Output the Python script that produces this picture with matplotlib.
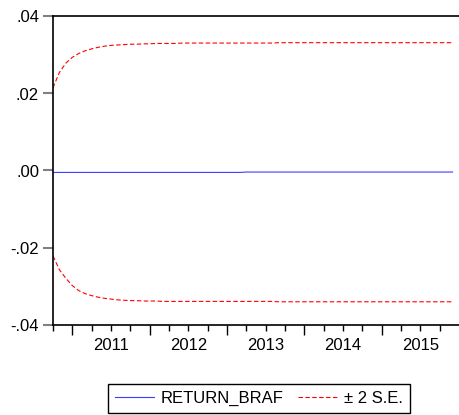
#!/usr/bin/env python3

import pandas as pd

import matplotlib
matplotlib.use('Agg')
import matplotlib.pyplot as plt

plt.rcParams['font.family'] = ['Liberation Sans', 'DejaVu Sans']

# monthly periods shown on the axis
months = pd.period_range('2010-10', '2015-12', freq='M')
years = [2011, 2012, 2013, 2014, 2015]
year_labels = ['2011', '2012', '2013', '2014', '2015']
y_ticks = [-0.04, -0.02, 0.0, 0.02, 0.04]
y_labels = ['-.04', '-.02', '.00', '.02', '.04']

return_braf = [
    -0.0005, -0.0005, -0.0005, -0.0005, -0.0005, -0.0005, -0.0005, -0.0005, -0.0005, -0.0005,
    -0.0005, -0.0005, -0.0005, -0.0005, -0.0005, -0.0005, -0.0005, -0.0005, -0.0005, -0.0005,
    -0.0005, -0.0005, -0.0005, -0.0005, -0.0005, -0.0005, -0.0005, -0.0005, -0.0005, -0.0005,
    -0.0004, -0.0004, -0.0004, -0.0004, -0.0004, -0.0004, -0.0004, -0.0004, -0.0004, -0.0004,
    -0.0004, -0.0004, -0.0004, -0.0004, -0.0004, -0.0004, -0.0004, -0.0004, -0.0004, -0.0004,
    -0.0004, -0.0004, -0.0004, -0.0004, -0.0004, -0.0004, -0.0004, -0.0004, -0.0004, -0.0004,
    -0.0004, -0.0004, -0.0004,
]
upper_se = [
    0.0215, 0.0255, 0.0279, 0.0294, 0.0304, 0.0311, 0.0316, 0.0320, 0.0323, 0.0325,
    0.0326, 0.0327, 0.0328, 0.0328, 0.0329, 0.0329, 0.0330, 0.0330, 0.0330, 0.0330,
    0.0331, 0.0331, 0.0331, 0.0331, 0.0331, 0.0331, 0.0331, 0.0331, 0.0331, 0.0331,
    0.0331, 0.0331, 0.0331, 0.0331, 0.0331, 0.0332, 0.0332, 0.0332, 0.0332, 0.0332,
    0.0332, 0.0332, 0.0332, 0.0332, 0.0332, 0.0332, 0.0332, 0.0332, 0.0332, 0.0332,
    0.0332, 0.0332, 0.0332, 0.0332, 0.0332, 0.0332, 0.0332, 0.0332, 0.0332, 0.0332,
    0.0332, 0.0332, 0.0332,
]
lower_se = [
    -0.0222, -0.0258, -0.0280, -0.0299, -0.0312, -0.0320, -0.0325, -0.0329, -0.0332, -0.0334,
    -0.0336, -0.0337, -0.0338, -0.0338, -0.0339, -0.0339, -0.0339, -0.0340, -0.0340, -0.0340,
    -0.0340, -0.0340, -0.0340, -0.0340, -0.0340, -0.0340, -0.0340, -0.0340, -0.0340, -0.0340,
    -0.0340, -0.0340, -0.0340, -0.0340, -0.0340, -0.0341, -0.0341, -0.0341, -0.0341, -0.0341,
    -0.0341, -0.0341, -0.0341, -0.0341, -0.0341, -0.0341, -0.0341, -0.0341, -0.0341, -0.0341,
    -0.0341, -0.0341, -0.0341, -0.0341, -0.0341, -0.0341, -0.0341, -0.0341, -0.0341, -0.0341,
    -0.0341, -0.0341, -0.0341,
]

if __name__ == "__main__":
    x = [p.year + (p.month - 1) / 12.0 for p in months]
    quarters = [p.year + (p.month - 1) / 12.0 for p in months if (p.month - 1) % 3 == 0]

    fig = plt.figure(figsize=(4.59, 4.15), dpi=100)
    ax = fig.add_axes([53 / 459, 1 - 324.5 / 415, 406 / 459, 308 / 415])

    blue, = ax.plot(x, return_braf, color='#3c3cff', lw=0.8)
    red, = ax.plot(x, upper_se, color='#ff0000', lw=0.8, linestyle=(0, (4, 2.2)))
    ax.plot(x, lower_se, color='#ff0000', lw=0.8, linestyle=(0, (4, 2.2)))

    ax.set_xlim(x[0], x[-1] + 1 / 12.0)
    ax.set_ylim(-0.04, 0.04)

    ax.set_yticks(y_ticks, y_labels)
    ax.tick_params(axis='y', direction='out', length=7, width=1.5, color='#808080',
                   labelsize=12, pad=3)

    ax.set_xticks(years, [''] * len(years))
    ax.set_xticks(quarters, minor=True)
    ax.tick_params(axis='x', which='major', direction='out', length=7.5, width=1)
    ax.tick_params(axis='x', which='minor', direction='out', length=4.5, width=1)
    for yr, lab in zip(years, year_labels):
        ax.text(yr + 0.5, -0.069, lab, transform=ax.get_xaxis_transform(),
                ha='center', va='center', fontsize=12)

    ax.spines['right'].set_visible(False)
    for s in ['left', 'top', 'bottom']:
        ax.spines[s].set_linewidth(1.2)
        ax.spines[s].set_color('black')

    leg = fig.legend([blue, red], ['RETURN_BRAF', '\u00b1 2 S.E.'], loc='center',
                     bbox_to_anchor=(259 / 459, 1 - 398.7 / 415), ncol=2, fontsize=12,
                     fancybox=False, handlelength=2.35, handletextpad=0.4,
                     columnspacing=0.9, borderpad=0.4, framealpha=1)
    leg.get_frame().set_edgecolor('black')
    leg.get_frame().set_linewidth(1)

    fig.savefig('out.png', dpi=100)
